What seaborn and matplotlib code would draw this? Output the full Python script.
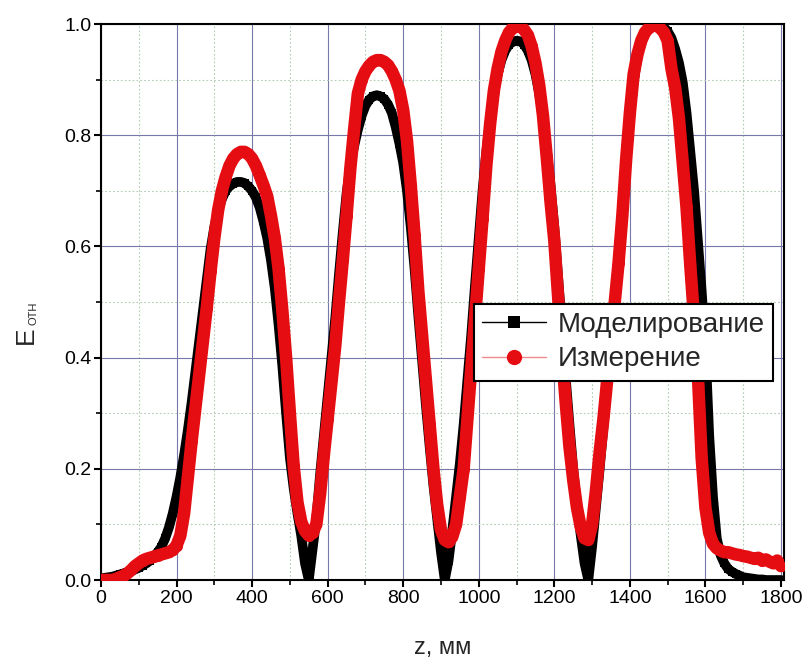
import matplotlib as mpl
mpl.use('Agg')
import matplotlib.pyplot as plt
from matplotlib.lines import Line2D
from matplotlib.ticker import MultipleLocator, FormatStrFormatter
import pandas as pd
import seaborn as sns

# positions along the axis, mm
z_mm = [
    0, 10, 20, 30, 40, 50, 60, 70, 80, 90,
    100, 110, 120, 130, 140, 150, 160, 170, 180, 190,
    200, 210, 220, 230, 240, 250, 260, 270, 280, 290,
    300, 310, 320, 330, 340, 350, 360, 370, 380, 390,
    400, 410, 420, 430, 440, 450, 460, 470, 480, 490,
    500, 510, 520, 530, 540, 550, 560, 570, 580, 590,
    600, 610, 620, 630, 640, 650, 660, 670, 680, 690,
    700, 710, 720, 730, 740, 750, 760, 770, 780, 790,
    800, 810, 820, 830, 840, 850, 860, 870, 880, 890,
    900, 910, 920, 930, 940, 950, 960, 970, 980, 990,
    1000, 1010, 1020, 1030, 1040, 1050, 1060, 1070, 1080, 1090,
    1100, 1110, 1120, 1130, 1140, 1150, 1160, 1170, 1180, 1190,
    1200, 1210, 1220, 1230, 1240, 1250, 1260, 1270, 1280, 1290,
    1300, 1310, 1320, 1330, 1340, 1350, 1360, 1370, 1380, 1390,
    1400, 1410, 1420, 1430, 1440, 1450, 1460, 1470, 1480, 1490,
    1500, 1510, 1520, 1530, 1540, 1550, 1560, 1570, 1580, 1590,
    1600, 1610, 1620, 1630, 1640, 1650, 1660, 1670, 1680, 1690,
    1700, 1710, 1720, 1730, 1740, 1750, 1760, 1770, 1780, 1790,
    1800,
]

# simulated relative field
e_model = [
    0.003, 0.004, 0.005, 0.006, 0.008, 0.01, 0.012, 0.014, 0.016, 0.019,
    0.022, 0.026, 0.03, 0.035, 0.042, 0.05, 0.06, 0.075, 0.095, 0.12,
    0.15, 0.185, 0.225, 0.27, 0.32, 0.375, 0.43, 0.485, 0.54, 0.595,
    0.635, 0.665, 0.685, 0.70, 0.708, 0.713, 0.716, 0.716, 0.714, 0.708,
    0.70, 0.688, 0.67, 0.645, 0.615, 0.575, 0.525, 0.46, 0.385, 0.30,
    0.22, 0.165, 0.12, 0.08, 0.03, 0.0, 0.055, 0.11, 0.19, 0.26,
    0.33, 0.40, 0.47, 0.55, 0.625, 0.695, 0.745, 0.78, 0.81, 0.835,
    0.853, 0.864, 0.87, 0.872, 0.87, 0.865, 0.855, 0.84, 0.815, 0.785,
    0.75, 0.70, 0.635, 0.56, 0.475, 0.395, 0.315, 0.24, 0.17, 0.11,
    0.05, 0.0, 0.035, 0.09, 0.15, 0.21, 0.28, 0.36, 0.44, 0.53,
    0.615, 0.70, 0.77, 0.83, 0.875, 0.91, 0.935, 0.952, 0.963, 0.968,
    0.97, 0.969, 0.963, 0.952, 0.935, 0.91, 0.875, 0.83, 0.775, 0.71,
    0.635, 0.545, 0.455, 0.365, 0.28, 0.20, 0.135, 0.08, 0.03, 0.0,
    0.06, 0.13, 0.20, 0.275, 0.35, 0.43, 0.51, 0.585, 0.665, 0.75,
    0.83, 0.895, 0.94, 0.965, 0.982, 0.992, 0.997, 0.999, 0.998, 0.994,
    0.987, 0.975, 0.955, 0.93, 0.895, 0.84, 0.77, 0.70, 0.61, 0.52,
    0.42, 0.26, 0.15, 0.075, 0.045, 0.03, 0.02, 0.015, 0.011, 0.008,
    0.005, 0.004, 0.003, 0.002, 0.001, 0.001, 0.0, 0.0, 0.0, 0.0,
    0.0,
]

# measured relative field
e_meas = [
    0.0, 0.0, 0.0, 0.0, 0.002, 0.005, 0.008, 0.012, 0.018, 0.025,
    0.03, 0.035, 0.038, 0.04, 0.042, 0.044, 0.046, 0.048, 0.05, 0.054,
    0.062, 0.08, 0.12, 0.185, 0.25, 0.31, 0.37, 0.43, 0.49, 0.555,
    0.615, 0.665, 0.70, 0.725, 0.745, 0.758, 0.766, 0.77, 0.77, 0.766,
    0.758, 0.745, 0.728, 0.71, 0.69, 0.655, 0.615, 0.56, 0.485, 0.40,
    0.30, 0.205, 0.14, 0.105, 0.088, 0.08, 0.085, 0.10, 0.155, 0.225,
    0.29, 0.355, 0.42, 0.50, 0.575, 0.655, 0.74, 0.81, 0.875, 0.90,
    0.915, 0.925, 0.932, 0.935, 0.935, 0.932, 0.926, 0.915, 0.90, 0.88,
    0.845, 0.79, 0.71, 0.62, 0.52, 0.44, 0.36, 0.28, 0.20, 0.135,
    0.09, 0.072, 0.068, 0.078, 0.10, 0.15, 0.20, 0.29, 0.38, 0.47,
    0.56, 0.65, 0.745, 0.82, 0.88, 0.92, 0.95, 0.97, 0.985, 0.993,
    0.996, 0.995, 0.99, 0.98, 0.96, 0.93, 0.89, 0.835, 0.76, 0.68,
    0.61, 0.51, 0.41, 0.32, 0.24, 0.18, 0.13, 0.095, 0.075, 0.072,
    0.10, 0.16, 0.23, 0.29, 0.36, 0.43, 0.50, 0.57, 0.655, 0.755,
    0.84, 0.91, 0.945, 0.97, 0.985, 0.993, 0.997, 0.997, 0.993, 0.985,
    0.97, 0.92, 0.885, 0.83, 0.75, 0.67, 0.565, 0.47, 0.37, 0.22,
    0.13, 0.085, 0.065, 0.057, 0.053, 0.05, 0.05, 0.048, 0.046, 0.045,
    0.043, 0.042, 0.04, 0.038, 0.04, 0.035, 0.037, 0.033, 0.03, 0.035,
    0.025,
]

series_names = ['Моделирование', 'Измерение']
series_colors = ['black', '#e50d12']

sns.set_theme(style='white')
plt.rcParams['font.family'] = ['Liberation Sans', 'DejaVu Sans']


def plot_field(out_file='out.png'):
    plot_df = pd.DataFrame({'z': z_mm, series_names[0]: e_model,
                            series_names[1]: e_meas})

    fig = plt.figure(figsize=(8.08, 6.71), dpi=100)
    ax = fig.add_axes([0.125, 0.1356, 0.8453, 0.8286])

    # thick bands drawn under the markers, model first so measurement sits on top
    band_lw = [7.0, 9.0]
    mark_style = [('s', 6.0), ('o', 8.0)]
    for name, clr, lw, (mk, ms) in zip(series_names, series_colors,
                                      band_lw, mark_style):
        sns.lineplot(data=plot_df, x='z', y=name, ax=ax, color=clr, lw=lw,
                     solid_capstyle='round', solid_joinstyle='round',
                     estimator=None, sort=False, legend=False, zorder=3)
        sns.lineplot(data=plot_df, x='z', y=name, ax=ax, color=clr, lw=1,
                     marker=mk, markersize=ms, markeredgewidth=0,
                     estimator=None, sort=False, legend=False, zorder=3)

    ax.set_xlim(0, 1808)
    ax.set_ylim(0, 1.0)
    ax.xaxis.set_major_locator(MultipleLocator(200))
    ax.xaxis.set_minor_locator(MultipleLocator(100))
    ax.yaxis.set_major_locator(MultipleLocator(0.2))
    ax.yaxis.set_minor_locator(MultipleLocator(0.1))
    ax.yaxis.set_major_formatter(FormatStrFormatter('%.1f'))

    ax.set_axisbelow(True)
    ax.grid(which='major', color='#7878aa', lw=0.8)
    ax.grid(which='minor', color='#b4cbb4', lw=0.8, ls=(0, (1.5, 2)))

    for sp in ax.spines.values():
        sp.set_visible(True)
        sp.set_color('black')
        sp.set_linewidth(1.5)

    ax.tick_params(which='both', direction='out', bottom=True, left=True,
                   top=False, right=False, colors='black')
    ax.tick_params(which='major', length=5, width=1.5, labelsize=14, pad=2)
    ax.tick_params(which='minor', length=3.5, width=1.2)

    ax.set_xlabel('z, мм', fontsize=17, labelpad=22)
    ax.set_ylabel('')
    fig.text(0.032, 0.5, 'E', rotation=90, fontsize=19,
             ha='center', va='center')
    fig.text(0.0415, 0.533, 'ОТН', rotation=90, fontsize=8,
             ha='center', va='center')

    handles = [
        Line2D([], [], color='black', lw=1, marker='s', markersize=8,
               markeredgewidth=0),
        Line2D([], [], color='#f08a8a', lw=1, marker='o', markersize=11,
               markerfacecolor=series_colors[1], markeredgewidth=0),
        ]
    leg = ax.legend(handles, series_names, loc='upper left',
                    bbox_to_anchor=(0.546, 0.497), fontsize=20,
                    frameon=True, fancybox=False, edgecolor='black',
                    framealpha=1, borderpad=0.3, labelspacing=0.3,
                    handlelength=2.3, handletextpad=0.4, borderaxespad=0)
    leg.get_frame().set_linewidth(1.5)
    leg.set_zorder(5)

    fig.savefig(out_file, dpi=100)
    plt.close()


if __name__ == '__main__':
    plot_field()
